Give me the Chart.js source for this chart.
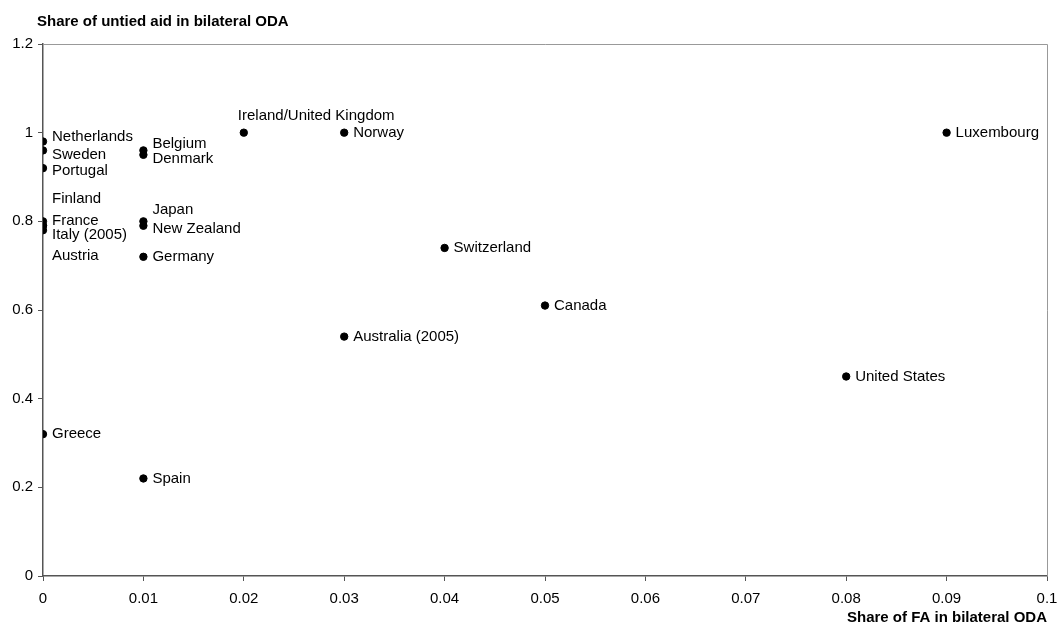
<!DOCTYPE html>
<html>
<head>
<meta charset="utf-8">
<script src="https://cdn.jsdelivr.net/npm/chart.js@4"></script>
<style>
  html, body { margin: 0; padding: 0; background: #fff; }
  #wrap { width: 1058px; height: 633px; }
</style>
</head>
<body>
<div id="wrap"><canvas id="aidChart"></canvas></div>
<script>
// Countries and their values
const countries = ['Netherlands', 'Sweden', 'Portugal', 'Finland', 'France', 'Italy (2005)', 'Austria',
    'Belgium', 'Denmark', 'Japan', 'New Zealand', 'Germany', 'Ireland/United Kingdom', 'Norway',
    'Luxembourg', 'Switzerland', 'Canada', 'Australia (2005)', 'United States', 'Greece', 'Spain'];
const faShare = [0, 0, 0, 0, 0, 0, 0,
    0.01, 0.01, 0.01, 0.01, 0.01, 0.02, 0.03,
    0.09, 0.04, 0.05, 0.03, 0.08, 0, 0.01];
const untiedShare = [0.98, 0.96, 0.92, 0.80, 0.79, 0.78, 0.79,
    0.96, 0.95, 0.80, 0.79, 0.72, 1.00, 1.00,
    1.00, 0.74, 0.61, 0.54, 0.45, 0.32, 0.22];
const xTicks = [0, 0.01, 0.02, 0.03, 0.04, 0.05, 0.06, 0.07, 0.08, 0.09, 0.1];
const yTicks = [0, 0.2, 0.4, 0.6, 0.8, 1, 1.2];

// label nudges in px (the original labels were placed by hand)
const labelNudge = {
    'Netherlands': [9, -5], 'Sweden': [9, 4], 'Portugal': [9, 3],
    'Finland': [9, -22], 'France': [9, -5], 'Italy (2005)': [9, 5], 'Austria': [9, 30],
    'Belgium': [9, -7], 'Denmark': [9, 4], 'Japan': [9, -11], 'New Zealand': [9, 3],
    'Ireland/United Kingdom': [-6, -17]
};

const points = countries.map((c, i) => ({ x: faShare[i], y: untiedShare[i] }));
const fontFamily = '"Liberation Sans", Arial, sans-serif';

const labelPlugin = {
    id: 'pointLabels',
    afterDatasetsDraw(chart) {
        const ctx = chart.ctx;
        const meta = chart.getDatasetMeta(0);
        ctx.save();
        ctx.font = '15px ' + fontFamily;
        ctx.fillStyle = '#000';
        ctx.textAlign = 'left';
        ctx.textBaseline = 'middle';
        meta.data.forEach((el, i) => {
            const nudge = labelNudge[countries[i]] || [9, 0];
            ctx.fillText(countries[i], el.x + nudge[0], el.y + nudge[1]);
        });
        ctx.restore();
    }
};

const frameAndTitles = {
    id: 'frameAndTitles',
    beforeDatasetsDraw(chart) {
        const { ctx, chartArea } = chart;
        ctx.save();
        ctx.strokeStyle = '#999';
        ctx.lineWidth = 1;
        ctx.beginPath();
        ctx.moveTo(chartArea.left, chartArea.top + 0.5);
        ctx.lineTo(chartArea.right + 0.5, chartArea.top + 0.5);
        ctx.lineTo(chartArea.right + 0.5, chartArea.bottom);
        ctx.stroke();
        ctx.restore();
    },
    afterDraw(chart) {
        const { ctx, chartArea } = chart;
        ctx.save();
        ctx.font = 'bold 15px ' + fontFamily;
        ctx.fillStyle = '#000';
        ctx.textBaseline = 'middle';
        ctx.textAlign = 'left';
        ctx.fillText('Share of untied aid in bilateral ODA', 37, 22);
        ctx.textAlign = 'right';
        ctx.fillText('Share of FA in bilateral ODA', chartArea.right, 618);
        ctx.restore();
    }
};

const axisColor = '#555';

new Chart(document.getElementById('aidChart'), {
    type: 'scatter',
    data: {
        datasets: [{
            data: points,
            backgroundColor: '#000',
            borderColor: '#000',
            pointRadius: 3.7,
            pointHoverRadius: 3.7
        }]
    },
    options: {
        responsive: true,
        maintainAspectRatio: false,
        animation: false,
        layout: { padding: { top: 44, right: 11, left: 0, bottom: 0 } },
        plugins: {
            legend: { display: false },
            tooltip: { enabled: false }
        },
        scales: {
            x: {
                type: 'linear',
                min: 0,
                max: 0.1,
                afterBuildTicks: axis => { axis.ticks = xTicks.map(v => ({ value: v })); },
                afterFit: axis => {
                    axis.height = 57;
                    axis.paddingLeft = 0;
                    axis.paddingRight = 0;
                },
                grid: { drawOnChartArea: false, drawTicks: true, tickLength: 5, color: axisColor },
                border: { color: axisColor, width: 1.5 },
                ticks: {
                    color: '#000',
                    padding: 9,
                    maxRotation: 0,
                    font: { family: fontFamily, size: 15 },
                    callback: v => String(Math.round(v * 100) / 100)
                }
            },
            y: {
                type: 'linear',
                min: 0,
                max: 1.2,
                afterBuildTicks: axis => { axis.ticks = yTicks.map(v => ({ value: v })); },
                afterFit: axis => { axis.width = 43; },
                grid: { drawOnChartArea: false, drawTicks: true, tickLength: 5, color: axisColor },
                border: { color: axisColor, width: 1.5 },
                ticks: {
                    color: '#000',
                    padding: 5,
                    font: { family: fontFamily, size: 15 },
                    callback: v => String(Math.round(v * 10) / 10)
                }
            }
        }
    },
    plugins: [labelPlugin, frameAndTitles]
});
</script>
</body>
</html>
